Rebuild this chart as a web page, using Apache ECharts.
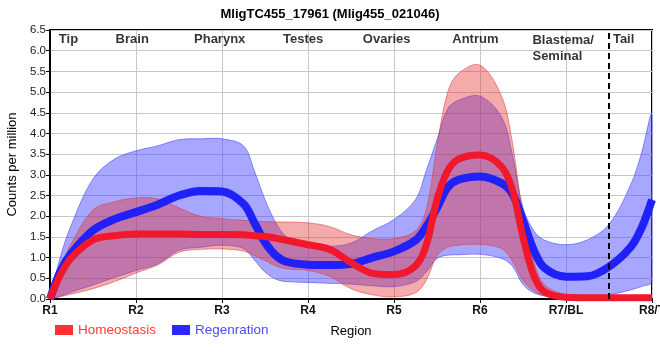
<!DOCTYPE html>
<html><head><meta charset="utf-8">
<script src="https://cdn.jsdelivr.net/npm/echarts@6/dist/echarts.min.js"></script>
<style>html,body{margin:0;padding:0;background:#fff}#c{width:660px;height:360px}</style>
</head><body><div id="c"></div>
<script>
const title = 'MligTC455_17961 (Mlig455_021046)';
const xLabels = ['R1','R2','R3','R4','R5','R6','R7/BL','R8/T'];
const regionNames = ['Tip','Brain','Pharynx','Testes','Ovaries','Antrum','Blastema/\nSeminal','Tail'];
const regionX = [1.215,1.956,2.973,3.943,4.915,5.946,6.61,7.67];
const dividerX = 7.5;
const xs = [1,1.125,1.25,1.5,1.75,2,2.25,2.5,2.75,3,3.25,3.375,3.5,3.625,3.75,4,4.25,4.5,4.75,5,5.25,5.375,5.5,5.625,5.75,6,6.25,6.375,6.5,6.625,6.75,7,7.25,7.5,7.75,7.875,8];
const homeoMean = [0,0.6,1.0,1.43,1.53,1.57,1.57,1.57,1.56,1.56,1.55,1.53,1.51,1.47,1.42,1.31,1.2,0.88,0.62,0.59,0.8,1.3,2.4,3.1,3.38,3.48,3.2,2.65,1.5,0.57,0.17,0.04,0.03,0.03,0.03,0.03,0.03];
const homeoUpper = [0,0.77,1.35,2.15,2.35,2.44,2.42,2.2,2.0,1.94,1.9,1.88,1.87,1.86,1.86,1.84,1.75,1.55,1.46,1.46,1.65,2.15,3.7,5.0,5.45,5.65,4.9,3.8,2.0,0.9,0.35,0.1,0.06,0.05,0.05,0.05,0.05];
const homeoLower = [0,0.06,0.12,0.25,0.42,0.63,0.82,1.13,1.2,1.21,1.16,1.05,0.93,0.8,0.73,0.69,0.55,0.25,0.1,0.05,0.15,0.45,1.05,1.25,1.3,1.32,1.22,0.92,0.45,0.2,0.07,0.01,0,0,0,0,0];
const regenMean = [0,0.69,1.11,1.66,1.93,2.1,2.28,2.5,2.61,2.6,2.3,1.85,1.37,1.05,0.9,0.83,0.82,0.85,1.0,1.15,1.42,1.75,2.2,2.7,2.88,2.96,2.8,2.55,1.9,1.18,0.75,0.54,0.55,0.78,1.25,1.7,2.4];
const regenUpper = [0,1.05,1.8,2.9,3.38,3.58,3.7,3.85,3.87,3.87,3.7,3.1,2.4,1.85,1.5,1.28,1.27,1.35,1.65,1.92,2.4,3.1,3.85,4.6,4.8,4.9,4.4,3.5,2.2,1.65,1.42,1.31,1.43,1.8,2.75,3.5,4.45];
const regenLower = [0,0.07,0.17,0.34,0.52,0.69,0.85,1.18,1.25,1.3,1.22,0.95,0.65,0.48,0.42,0.4,0.38,0.36,0.32,0.3,0.42,0.65,0.98,1.06,1.07,1.08,0.98,0.8,0.35,0.15,0.08,0.04,0.05,0.1,0.22,0.3,0.42];

const pts = arr => xs.map((x,i)=>[x, arr[i]]);
const SM = 0.35;
function band(name, lower, upper, fill, edge){
  return {
    name:name, type:'custom', silent:true, data:[[1,0]],
    renderItem:(params, api)=>{
      const up = xs.map((x,i)=>api.coord([x, upper[i]]));
      const lo = xs.map((x,i)=>api.coord([x, lower[i]])).reverse();
      const cs = params.coordSys;
      return {type:'polygon', shape:{points: up.concat(lo), smooth:SM,
          smoothConstraint:[[cs.x, cs.y],[cs.x+cs.width, cs.y+cs.height]]},
        style:{fill:fill, stroke:edge, lineWidth:1}};
    }
  };
}
const chart = echarts.init(document.getElementById('c'));
const F = 'Liberation Sans, Arial, sans-serif';
chart.setOption({
  animation:false,
  textStyle:{fontFamily:F},
  title:{text:title, left:'center', top:3, textStyle:{fontSize:13, fontWeight:'bold', color:'#000', fontFamily:F}},
  grid:{left:50, right:8, top:30, bottom:61, show:true, borderColor:'#000', borderWidth:2, outerBoundsMode:'none', containLabel:false},
  legend:{left:50, top:318, icon:'rect', itemWidth:18, itemHeight:10, itemGap:16,
    textStyle:{fontSize:13.5, fontFamily:F},
    data:[{name:'Homeostasis', textStyle:{color:'#ff3b3b'}},{name:'Regenration', textStyle:{color:'#4a4aff'}}]},
  xAxis:{type:'value', min:1, max:8, interval:1, name:'Region', nameLocation:'middle', nameGap:26,
    nameTextStyle:{fontSize:13, color:'#000', fontFamily:F},
    axisLine:{lineStyle:{color:'#000', width:2}}, axisTick:{show:true, length:4, lineStyle:{color:'#000'}},
    axisLabel:{formatter:v=>xLabels[Math.round(v)-1]||'', fontWeight:'bold', fontSize:12, color:'#111', margin:6, showMaxLabel:true},
    splitLine:{show:true, lineStyle:{color:'#c8c8c8', width:1}}},
  yAxis:{type:'value', min:0, max:6.5, interval:0.5, name:'Counts per million', nameLocation:'middle', nameGap:31,
    nameTextStyle:{fontSize:13, color:'#000', fontFamily:F},
    axisLine:{show:true, lineStyle:{color:'#000', width:2}}, axisTick:{show:true, length:4, lineStyle:{color:'#000'}},
    axisLabel:{formatter:v=>v.toFixed(1), fontSize:11.5, color:'#222', margin:4},
    splitLine:{show:true, lineStyle:{color:'#c8c8c8', width:1}}},
  series:[
    band('regenBand', regenLower, regenUpper, 'rgba(60,60,255,0.45)', 'rgba(70,70,255,0.6)'),
    {name:'Regenration', type:'line', data:pts(regenMean), smooth:SM, symbol:'none',
     itemStyle:{color:'#2a2aff'}, lineStyle:{color:'#2020f8', width:8}},
    band('homeoBand', homeoLower, homeoUpper, 'rgba(230,45,45,0.4)', 'rgba(215,60,60,0.55)'),
    {name:'Homeostasis', type:'line', data:pts(homeoMean), smooth:SM, symbol:'none',
     itemStyle:{color:'#ff3030'}, lineStyle:{color:'#f0182a', width:7},
     markLine:{silent:true, symbol:'none', label:{show:false}, lineStyle:{color:'#000', type:[6,4], width:2},
       data:[{xAxis:dividerX}]}},
    {name:'regions', type:'scatter', symbolSize:0, silent:true, z:10,
     data:regionNames.map((n,i)=>({name:n, value:[regionX[i],6.5],
       label: n.indexOf('\n')>=0 ? {align:'left', lineHeight:16} : {}})),
     label:{show:true, position:'bottom', distance:2, formatter:p=>p.name, fontSize:13, fontWeight:'bold', color:'#000', lineHeight:14, fontFamily:F}}
  ]
});
</script></body></html>
